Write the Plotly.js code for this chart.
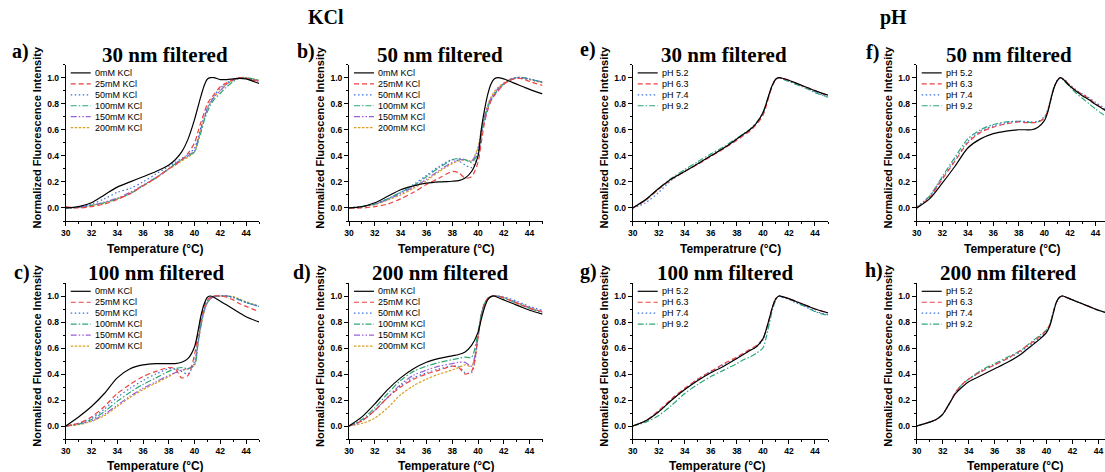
<!DOCTYPE html>
<html><head><meta charset="utf-8">
<script src="https://cdn.plot.ly/plotly-3.0.1.min.js"></script>
<style>html,body{margin:0;padding:0;background:#fff}#chart{width:1105px;height:472px}</style>
</head><body><div id="chart"></div>
<script>
// ---------- data ----------
const temp = [30,31,32,33,34,35,36,37,38,38.5,39,39.5,40,40.25,40.5,40.75,41,41.25,41.5,42,42.5,43,43.5,44,45];
const tempH = [30,31,31.5,32,32.5,33,33.5,34,35,36,37,38,38.5,39,39.5,40,40.25,40.5,40.75,41,41.25,41.5,42,42.5,43,43.5,44,45];

const kclLabels = ['0mM KCl','25mM KCl','50mM KCl','100mM KCl','150mM KCl','200mM KCl'];
const phLabels = ['pH 5.2','pH 6.3','pH 7.4','pH 9.2'];
const panelTitles = ['30 nm filtered','50 nm filtered','100 nm filtered','200 nm filtered','30 nm filtered','50 nm filtered','100 nm filtered','200 nm filtered'];
const panelLetters = ['a)','b)','c)','d)','e)','f)','g)','h)'];
const xTitles = ['Temperature (°C)','Temperature (°C)','Temperature (°C)','Temperature (°C)','Temperatrure (°C)','Temperature (°C)','Temperature (°C)','Temperature (°C)'];
const yTitle = 'Normalized Fluorescence Intensity';
const groupTitles = ['KCl','pH'];
const xTickVals = [30,32,34,36,38,40,42,44];
const yTickVals = [0,0.2,0.4,0.6,0.8,1.0];

// a) KCl, 30 nm
const a_0   = [0.00,0.01,0.04,0.10,0.16,0.20,0.24,0.28,0.33,0.37,0.43,0.53,0.68,0.77,0.86,0.94,0.99,1.00,1.00,0.985,0.985,0.99,0.995,0.99,0.955];
const a_25  = [0.01,0.00,0.01,0.03,0.065,0.11,0.17,0.23,0.30,0.33,0.37,0.42,0.50,0.58,0.66,0.73,0.80,0.84,0.87,0.93,0.96,0.985,1.00,0.995,0.97];
const a_50  = [0.00,0.005,0.03,0.07,0.12,0.15,0.20,0.26,0.32,0.35,0.38,0.41,0.46,0.53,0.62,0.70,0.77,0.82,0.86,0.92,0.96,0.985,1.00,0.995,0.975];
const a_100 = [0.00,0.005,0.02,0.04,0.07,0.11,0.17,0.23,0.30,0.34,0.37,0.40,0.43,0.50,0.58,0.67,0.74,0.79,0.83,0.88,0.93,0.97,0.995,1.00,0.98];
const a_150 = [0.00,0.005,0.02,0.045,0.075,0.12,0.175,0.235,0.30,0.34,0.37,0.40,0.44,0.52,0.61,0.69,0.76,0.81,0.85,0.90,0.95,0.98,1.00,0.995,0.975];
const a_200 = [0.00,0.005,0.02,0.04,0.07,0.11,0.17,0.23,0.30,0.33,0.36,0.39,0.43,0.51,0.60,0.68,0.76,0.81,0.85,0.90,0.95,0.98,1.00,1.00,0.98];
// b) KCl, 50 nm
const b_0   = [0.00,0.01,0.04,0.09,0.14,0.17,0.19,0.20,0.205,0.21,0.23,0.28,0.40,0.60,0.75,0.87,0.95,0.99,1.00,0.99,0.97,0.95,0.93,0.91,0.875];
const b_25  = [0.00,0.00,0.01,0.03,0.07,0.12,0.18,0.23,0.28,0.27,0.23,0.24,0.35,0.50,0.65,0.75,0.82,0.86,0.89,0.95,0.98,0.995,0.99,0.97,0.94];
const b_50  = [0.00,0.01,0.03,0.07,0.12,0.18,0.25,0.32,0.37,0.36,0.33,0.31,0.40,0.55,0.67,0.76,0.82,0.87,0.90,0.95,0.985,1.00,0.995,0.985,0.965];
const b_100 = [0.00,0.01,0.03,0.07,0.12,0.17,0.24,0.31,0.37,0.38,0.37,0.35,0.42,0.56,0.68,0.77,0.83,0.87,0.90,0.95,0.98,1.00,1.00,0.99,0.965];
const b_150 = [0.00,0.01,0.03,0.065,0.11,0.16,0.22,0.29,0.35,0.37,0.37,0.36,0.45,0.58,0.70,0.78,0.84,0.88,0.91,0.955,0.985,1.00,1.00,0.99,0.965];
const b_200 = [0.00,0.01,0.025,0.06,0.10,0.15,0.21,0.28,0.34,0.36,0.37,0.36,0.47,0.60,0.71,0.79,0.85,0.89,0.92,0.96,0.99,1.00,1.00,0.985,0.96];
// c) KCl, 100 nm
const c_0   = [0.00,0.07,0.15,0.25,0.37,0.44,0.47,0.48,0.48,0.48,0.49,0.52,0.61,0.72,0.85,0.94,0.99,1.00,0.99,0.96,0.93,0.90,0.87,0.84,0.80];
const c_25  = [0.00,0.02,0.07,0.15,0.25,0.32,0.38,0.42,0.45,0.44,0.37,0.39,0.55,0.70,0.83,0.92,0.97,0.99,1.00,1.00,0.99,0.97,0.94,0.92,0.88];
const c_50  = [0.00,0.02,0.06,0.13,0.22,0.29,0.35,0.40,0.44,0.44,0.42,0.40,0.50,0.65,0.80,0.90,0.96,0.99,1.00,1.00,1.00,0.99,0.97,0.95,0.92];
const c_100 = [0.00,0.015,0.05,0.11,0.19,0.26,0.32,0.37,0.42,0.44,0.45,0.44,0.47,0.62,0.78,0.89,0.95,0.98,0.995,1.00,1.00,0.99,0.97,0.95,0.92];
const c_150 = [0.00,0.015,0.04,0.09,0.16,0.23,0.29,0.34,0.39,0.41,0.43,0.44,0.48,0.63,0.78,0.89,0.95,0.98,0.995,1.00,1.00,0.99,0.97,0.95,0.92];
const c_200 = [0.00,0.01,0.035,0.08,0.15,0.22,0.28,0.33,0.38,0.41,0.43,0.44,0.47,0.62,0.77,0.88,0.95,0.98,0.995,1.00,1.00,0.995,0.975,0.955,0.925];
// d) KCl, 200 nm
const d_0   = [0.00,0.07,0.17,0.28,0.37,0.44,0.49,0.52,0.54,0.55,0.57,0.62,0.72,0.82,0.91,0.97,0.995,1.00,0.99,0.97,0.95,0.93,0.91,0.89,0.86];
const d_25  = [0.00,0.04,0.12,0.22,0.30,0.36,0.40,0.43,0.46,0.45,0.40,0.42,0.68,0.85,0.94,0.98,0.995,1.00,1.00,0.985,0.965,0.945,0.925,0.905,0.88];
const d_50  = [0.00,0.04,0.12,0.22,0.31,0.37,0.41,0.44,0.46,0.46,0.41,0.41,0.68,0.85,0.94,0.98,0.995,1.00,1.00,0.99,0.98,0.96,0.94,0.92,0.89];
const d_100 = [0.00,0.05,0.14,0.25,0.35,0.42,0.46,0.49,0.51,0.52,0.53,0.53,0.72,0.86,0.94,0.98,0.995,1.00,1.00,0.985,0.965,0.945,0.925,0.905,0.87];
const d_150 = [0.00,0.04,0.12,0.22,0.32,0.39,0.43,0.46,0.48,0.49,0.49,0.46,0.70,0.85,0.94,0.98,0.995,1.00,1.00,0.99,0.97,0.95,0.93,0.91,0.88];
const d_200 = [0.00,0.02,0.06,0.14,0.24,0.31,0.36,0.40,0.43,0.45,0.47,0.46,0.68,0.85,0.94,0.98,0.995,1.00,1.00,0.99,0.97,0.95,0.93,0.91,0.875];
// e) pH, 30 nm
const e_52 = [0.00,0.065,0.15,0.225,0.28,0.34,0.40,0.46,0.53,0.565,0.60,0.65,0.73,0.80,0.88,0.95,0.99,1.00,0.995,0.98,0.96,0.94,0.92,0.90,0.865];
const e_63 = [0.00,0.06,0.145,0.22,0.28,0.335,0.395,0.455,0.52,0.555,0.59,0.64,0.71,0.78,0.87,0.94,0.985,1.00,0.995,0.98,0.96,0.94,0.92,0.90,0.86];
const e_74 = [0.00,0.04,0.12,0.215,0.28,0.34,0.40,0.46,0.53,0.565,0.60,0.65,0.72,0.79,0.875,0.945,0.99,1.00,0.99,0.975,0.955,0.935,0.915,0.89,0.85];
const e_92 = [0.00,0.06,0.15,0.23,0.295,0.355,0.415,0.47,0.535,0.57,0.605,0.655,0.73,0.80,0.88,0.95,0.99,1.00,0.99,0.97,0.95,0.93,0.91,0.885,0.85];
// f) pH, 50 nm
const f_52 = [0.00,0.07,0.19,0.32,0.46,0.53,0.57,0.59,0.60,0.60,0.60,0.62,0.67,0.73,0.83,0.92,0.975,1.00,0.985,0.935,0.895,0.86,0.83,0.795,0.735];
const f_63 = [0.00,0.08,0.22,0.36,0.50,0.58,0.62,0.645,0.66,0.655,0.655,0.66,0.69,0.74,0.83,0.92,0.975,1.00,0.99,0.94,0.90,0.87,0.84,0.80,0.74];
const f_74 = [0.01,0.09,0.23,0.37,0.51,0.59,0.63,0.655,0.665,0.665,0.66,0.665,0.70,0.75,0.84,0.93,0.98,1.00,0.99,0.945,0.905,0.875,0.845,0.81,0.75];
const f_92 = [0.00,0.09,0.24,0.39,0.53,0.60,0.64,0.66,0.665,0.66,0.655,0.66,0.69,0.74,0.83,0.92,0.975,1.00,0.98,0.93,0.88,0.84,0.80,0.76,0.69];
// g) pH, 100 nm
const g_52 = [0.00,0.04,0.11,0.20,0.28,0.35,0.41,0.46,0.52,0.55,0.58,0.61,0.67,0.74,0.83,0.92,0.98,1.00,0.995,0.98,0.96,0.94,0.92,0.90,0.87];
const g_63 = [0.00,0.04,0.12,0.21,0.29,0.36,0.42,0.48,0.53,0.56,0.59,0.62,0.67,0.74,0.83,0.92,0.98,1.00,0.995,0.98,0.96,0.94,0.92,0.90,0.87];
const g_74 = [0.00,0.04,0.11,0.20,0.28,0.36,0.42,0.47,0.52,0.55,0.58,0.61,0.66,0.73,0.82,0.92,0.98,1.00,0.99,0.975,0.95,0.93,0.91,0.885,0.855];
const g_92 = [0.00,0.03,0.08,0.16,0.25,0.32,0.38,0.43,0.48,0.51,0.53,0.56,0.60,0.68,0.79,0.90,0.97,1.00,0.99,0.975,0.955,0.93,0.905,0.88,0.85];
// h) pH, 200 nm (on tempH)
const h_52 = [0.00,0.03,0.05,0.09,0.17,0.25,0.30,0.34,0.39,0.44,0.49,0.55,0.59,0.63,0.67,0.72,0.77,0.86,0.95,0.99,1.00,0.99,0.97,0.95,0.93,0.91,0.89,0.86];
const h_63 = [0.00,0.03,0.05,0.09,0.17,0.26,0.32,0.36,0.42,0.47,0.52,0.58,0.62,0.65,0.69,0.74,0.78,0.87,0.95,0.99,1.00,0.99,0.97,0.95,0.93,0.91,0.89,0.86];
const h_74 = [0.00,0.03,0.05,0.09,0.17,0.26,0.32,0.36,0.42,0.47,0.52,0.57,0.61,0.64,0.68,0.73,0.78,0.87,0.95,0.99,1.00,0.99,0.97,0.95,0.93,0.91,0.89,0.86];
const h_92 = [0.00,0.03,0.05,0.09,0.17,0.26,0.32,0.36,0.43,0.48,0.53,0.58,0.62,0.66,0.70,0.74,0.78,0.87,0.95,0.99,1.00,0.99,0.97,0.95,0.93,0.91,0.89,0.86];

// ---------- styling ----------
const W = 1105, H = 472;
const kclStyles = [
  {color:'#000000', dash:'solid'},
  {color:'#f04040', dash:'5px,3px'},
  {color:'#3a72e0', dash:'1.5px,2.5px'},
  {color:'#2ea877', dash:'6px,2px,1.5px,2px'},
  {color:'#9a60d8', dash:'6px,2px,1.5px,2px,1.5px,2px'},
  {color:'#d8a020', dash:'2.5px,1.5px'}
];
const phStyles = kclStyles.slice(0,4);

const rowTop = [64.6, 283], rowBot = [221, 439];
const cols = [[65.7,259],[349,542.5],[632.7,828],[916.7,1105]];
const panels = [
  {col:0,row:0,x:temp,series:[a_0,a_25,a_50,a_100,a_150,a_200],labels:kclLabels,styles:kclStyles,xend:45},
  {col:1,row:0,x:temp,series:[b_0,b_25,b_50,b_100,b_150,b_200],labels:kclLabels,styles:kclStyles,xend:45},
  {col:0,row:1,x:temp,series:[c_0,c_25,c_50,c_100,c_150,c_200],labels:kclLabels,styles:kclStyles,xend:45},
  {col:1,row:1,x:temp,series:[d_0,d_25,d_50,d_100,d_150,d_200],labels:kclLabels,styles:kclStyles,xend:45},
  {col:2,row:0,x:temp,series:[e_52,e_63,e_74,e_92],labels:phLabels,styles:phStyles,xend:45},
  {col:3,row:0,x:temp,series:[f_52,f_63,f_74,f_92],labels:phLabels,styles:phStyles,xend:44.75},
  {col:2,row:1,x:temp,series:[g_52,g_63,g_74,g_92],labels:phLabels,styles:phStyles,xend:45},
  {col:3,row:1,x:tempH,series:[h_52,h_63,h_74,h_92],labels:phLabels,styles:phStyles,xend:44.5}
];
const titlePos = [[165,55],[440,55],[156,273],[440,273],[724,55],[1009,55],[725,273],[1008,273]];
const letterPos = [[20,51],[306,51],[22,272],[302,272],[588,49],[872,52],[588,271],[874,270]];
const xTitlePos = [[155,249],[446,249],[155,466],[446,466],[730,249],[1012,249],[717,466],[1015,466]];

const px = v => v / W, py = v => 1 - v / H;
const traces = [], annotations = [], shapes = [];
const layout = {
  width: W, height: H, margin:{l:0,r:0,t:0,b:0},
  paper_bgcolor:'#fff', plot_bgcolor:'#fff', showlegend:false,
  font:{family:'Liberation Sans, Arial, sans-serif', color:'#000'}
};
const tickFont = {family:'Liberation Sans, Arial, sans-serif', size:8.5, weight:'bold', color:'#000'};
const serifBold = s => ({family:'Liberation Serif, Times New Roman, serif', size:s, weight:'bold', color:'#000'});
const sansBold = s => ({family:'Liberation Sans, Arial, sans-serif', size:s, weight:'bold', color:'#000'});
const ann = (text, x, y, font, extra) => Object.assign({text, x:px(x), y:py(y), xref:'paper', yref:'paper', xanchor:'center', yanchor:'middle', showarrow:false, font}, extra||{});

panels.forEach((p, i) => {
  const n = i === 0 ? '' : String(i+1);
  const [l, r] = cols[p.col];
  const t = rowTop[p.row], b = rowBot[p.row];
  layout['xaxis'+n] = {
    domain:[px(l), px(r)], anchor:'y'+n, range:[30, p.xend],
    tickvals:xTickVals, ticks:'outside', ticklen:4, tickwidth:1, tickcolor:'#000',
    showline:true, linecolor:'#000', linewidth:1, showgrid:false, zeroline:false,
    tickfont:tickFont, minor:{ticks:'outside', ticklen:2, dtick:1, tick0:30, tickcolor:'#000', showgrid:false}
  };
  layout['yaxis'+n] = {
    domain:[py(b), py(t)], anchor:'x'+n, range:[-0.1, 1.1],
    tickvals:yTickVals, tickformat:'.1f', ticks:'outside', ticklen:4, tickwidth:1, tickcolor:'#000',
    showline:true, linecolor:'#000', linewidth:1, showgrid:false, zeroline:false,
    tickfont:tickFont, minor:{ticks:'outside', ticklen:2, dtick:0.1, tick0:0, tickcolor:'#000', showgrid:false}
  };
  const order = p.series.map((_, k) => k).reverse();
  order.forEach(k => {
    traces.push({
      type:'scatter', mode:'lines', x:p.x, y:p.series[k], name:p.labels[k],
      xaxis:'x'+n, yaxis:'y'+n, hoverinfo:'skip',
      line:{color:p.styles[k].color, dash:p.styles[k].dash, width:1.2, shape:'spline', smoothing:0.8}
    });
  });
  p.labels.forEach((lab, k) => {
    const yy = t + 8.3 + k * 10.95;
    shapes.push({type:'line', xref:'paper', yref:'paper', x0:px(l+5), x1:px(l+25), y0:py(yy), y1:py(yy),
      line:{color:p.styles[k].color, dash:p.styles[k].dash, width:1.2}});
    annotations.push(ann(lab, l+27, yy, {family:'Liberation Sans, Arial, sans-serif', size:9, color:'#000'}, {xanchor:'left'}));
  });
  annotations.push(ann(panelTitles[i], titlePos[i][0], titlePos[i][1], serifBold(21)));
  annotations.push(ann(panelLetters[i], letterPos[i][0], letterPos[i][1], serifBold(20)));
  annotations.push(ann(xTitles[i], xTitlePos[i][0], xTitlePos[i][1], sansBold(12)));
  annotations.push(ann(yTitle, l - 29, (t + b) / 2 - 5, sansBold(11), {textangle:-90}));
});
annotations.push(ann(groupTitles[0], 326, 17, serifBold(20)));
annotations.push(ann(groupTitles[1], 893, 17, serifBold(20)));
layout.annotations = annotations;
layout.shapes = shapes;

Plotly.newPlot('chart', traces, layout, {staticPlot:true, displayModeBar:false});
</script>
</body></html>
